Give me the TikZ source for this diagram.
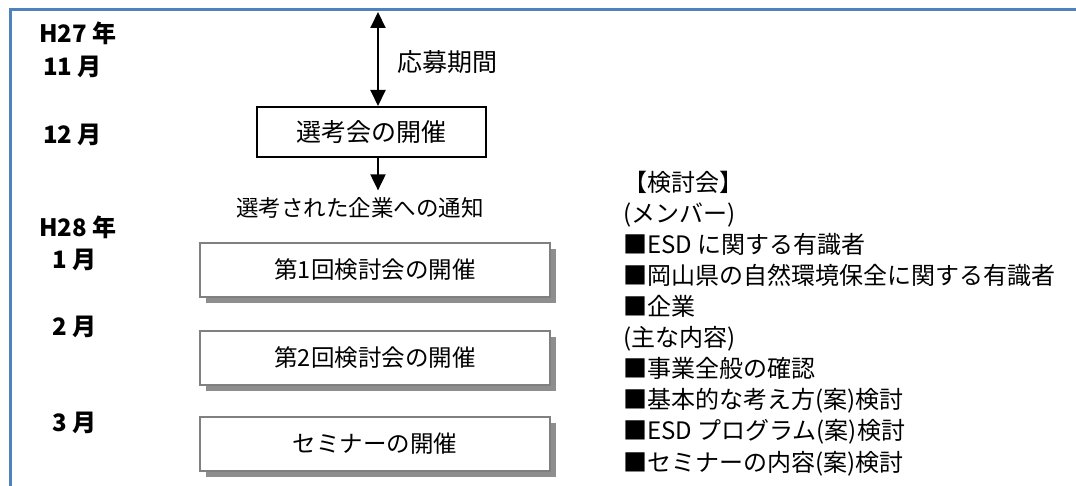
\documentclass[tikz,border=0pt]{standalone}
\usepackage{fontspec}
\setmainfont{Noto Sans CJK JP}
\usetikzlibrary{arrows.meta, positioning, shadows}

\definecolor{framebl}{RGB}{79,129,189}
\definecolor{boxgray}{RGB}{128,128,128}
\definecolor{shadegray}{RGB}{142,142,142}

\begin{document}
\begin{tikzpicture}[x=1pt, y=-1pt,
	every node/.style={font=\fontsize{24}{28}\selectfont},
	month/.style={anchor=west, inner sep=0pt, font=\fontsize{24}{28}\selectfont\bfseries},
	selbox/.style={draw, line width=2pt, fill=white, minimum width=229pt, minimum height=50pt,
		font=\fontsize{25}{30}\selectfont},
	meetbox/.style={draw=boxgray, line width=2pt, fill=white, minimum width=350pt, minimum height=54pt,
		font=\fontsize{23.5}{28}\selectfont,
		drop shadow={shadow xshift=6pt, shadow yshift=-6pt, fill=shadegray, opacity=1}},
	note/.style={anchor=west, inner sep=0pt, text height=20pt, text depth=4pt},
	arrow/.style={line width=2pt},
	>={Triangle[width=15pt,length=16pt]}
	]
	\useasboundingbox (0,0) rectangle (1076,486);
	
	% Frame
	\draw[framebl, line width=3pt] (1076,10) -- (10.5,10) -- (10.5,486);
	
	% Months
	\node[month] (h27) at (39,33) {H27 年};
	\node[month] (nov) at (43,67) {11 月};
	\node[month] (dec) at (43,135) {12 月};
	\node[month] (h28) at (39,227) {H28 年};
	\node[month] (jan) at (52,260) {1 月};
	\node[month] (feb) at (52,327) {2 月};
	\node[month] (mar) at (52,423) {3 月};
	
	% Selection
	\coordinate (top) at (378,12);
	\node[selbox] (sel) at (371.5,132) {選考会の開催};
	\node[anchor=west, inner sep=0pt, font=\fontsize{25}{30}\selectfont] (apply) at (397,62) {応募期間};
	\node[inner sep=0pt, font=\fontsize{22.5}{27}\selectfont] (notify) at (360,208) {選考された企業への通知};
	
	\draw[arrow, <->] (top) -- (top |- sel.north);
	\draw[arrow, ->, shorten >=7pt] (sel.south -| top) -- (top |- notify.north);
	
	% Meetings
	\node[meetbox] (meet1) at (375,270) {第1回検討会の開催};
	\node[meetbox] (meet2) at (375,358) {第2回検討会の開催};
	\node[meetbox] (meet3) at (375,443.5) {セミナーの開催};
	
	% Notes
	\foreach \txt [count=\i] in {【検討会】, (メンバー), ■ESD に関する有識者,
		■岡山県の自然環境保全に関する有識者, ■企業, (主な内容), ■事業全般の確認,
		■基本的な考え方(案)検討, ■ESD プログラム(案)検討, ■セミナーの内容(案)検討}
		\node[note] (note\i) at (623,{152+\i*31.1}) {\txt};
	
\end{tikzpicture}
\end{document}
